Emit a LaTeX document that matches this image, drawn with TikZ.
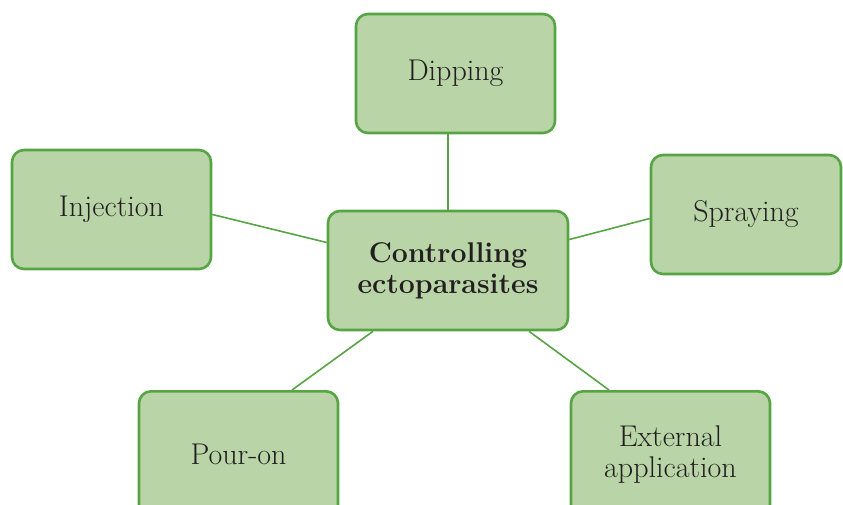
\documentclass[tikz,border=0pt]{standalone}
\definecolor{boxfill}{RGB}{185,213,168}
\definecolor{boxline}{RGB}{86,164,68}
\definecolor{txt}{RGB}{35,31,32}
\begin{document}
\begin{tikzpicture}[x=1pt,y=-1pt,
  box/.style={draw=boxline, fill=boxfill, line width=2.6pt, rounded corners=12pt,
    minimum width=199pt, minimum height=119pt, inner sep=0pt, align=center,
    text=txt, font=\fontsize{30}{31}\selectfont},
  link/.style={draw=boxline, line width=1.6pt}]
\useasboundingbox (0,0) rectangle (843,505);
\node[box, minimum width=240pt, font=\fontsize{28.5}{31}\selectfont\bfseries] (ctr) at (448,270.5) {Controlling\\ectoparasites};
\node[box] (dip) at (455.5,73.5) {Dipping};
\node[box] (inj) at (111.5,209.5) {Injection};
\node[box, minimum width=190pt] (spr) at (746,214.5) {Spraying};
\node[box, minimum height=126pt, anchor=north] (pour) at (238.5,390) {Pour-on};
\node[box, minimum height=126pt, anchor=north] (ext) at (670.5,390) {External\\application};
\draw[link] (ctr.north) -- (ctr.north |- dip.south);
\draw[link] ([yshift=-5pt]inj.east) -- ([yshift=28pt]ctr.west);
\draw[link] ([yshift=-4pt]spr.west) -- ([yshift=31pt]ctr.east);
\draw[link] ([xshift=53.5pt]pour.north) -- ([xshift=-75pt]ctr.south);
\draw[link] ([xshift=-61.5pt]ext.north) -- ([xshift=81pt]ctr.south);
\end{tikzpicture}
\end{document}
